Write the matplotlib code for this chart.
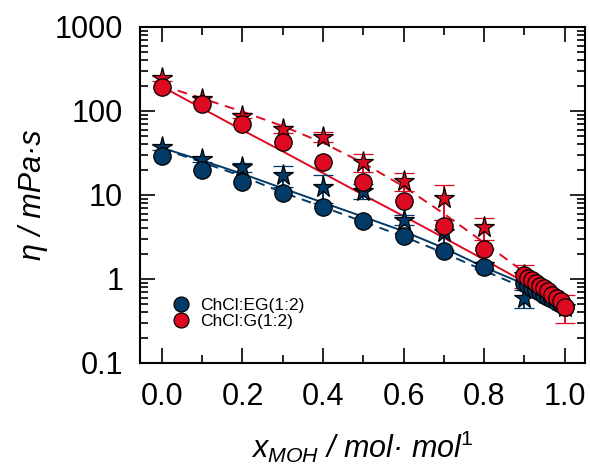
import numpy as np
import matplotlib
matplotlib.use('Agg')
from matplotlib import pyplot as plt
from matplotlib.ticker import LogLocator, FixedLocator, NullFormatter, FuncFormatter

plt.rcParams['font.family'] = ['Liberation Sans', 'DejaVu Sans']
plt.rcParams['mathtext.fontset'] = 'custom'
plt.rcParams['mathtext.rm'] = 'Liberation Sans'
plt.rcParams['mathtext.it'] = 'Liberation Sans:italic'

azul = '#023a68'
rojo = '#de0a22'

# fraccion molar de metanol
x_exp = [0.0, 0.1, 0.2, 0.3, 0.4, 0.5, 0.6, 0.7, 0.8]
x_fin = [0.90, 0.91, 0.92, 0.93, 0.94, 0.95, 0.96, 0.97, 0.98, 0.99, 1.00]

# ChCl:EG(1:2) circulos
eg_circ = [29.4, 20.0, 14.2, 10.6, 7.2, 4.9, 3.25, 2.15, 1.40]
eg_circ_fin = [0.90, 0.84, 0.79, 0.74, 0.69, 0.65, 0.61, 0.57, 0.53, 0.50, 0.47]
# ChCl:G(1:2) circulos
g_circ = [195, 121, 69, 43, 24.8, 14.4, 8.4, 4.3, 2.3]
g_circ_fin = [1.12, 1.04, 0.96, 0.89, 0.83, 0.77, 0.71, 0.65, 0.60, 0.54, 0.47]

# estrellas con barras de error
x_est = [0.0, 0.1, 0.2, 0.3, 0.4, 0.5, 0.6, 0.7, 0.8, 0.9]
eg_est = [37, 26.5, 21.5, 17.3, 12.6, 11.2, 5.1, 3.6, 1.45, 0.59]
eg_est_err = [2.5, 2.0, 2.5, 5.0, 4.5, 2.3, 0.7, 1.4, 0.15, 0.14]
x_est_g = [0.0, 0.1, 0.2, 0.3, 0.4, 0.5, 0.6, 0.7, 0.8, 0.9, 1.0]
g_est = [245, 140, 88, 61, 49, 24.5, 14.8, 9.1, 4.1, 1.12, 0.47]
g_est_err = [15, 8, 6, 6, 6.5, 6, 3.6, 4.0, 1.2, 0.35, 0.17]

# modelos
x_mod = [0.0, 0.1, 0.2, 0.3, 0.4, 0.5, 0.6, 0.7, 0.8, 0.9]
eg_mod1 = [36.3, 25.7, 17.8, 12.0, 8.1, 5.5, 3.7, 2.34, 1.38, 0.87]
eg_mod2 = [35.5, 24.5, 16.6, 10.7, 7.2, 4.8, 3.2, 2.04, 1.26, 0.78]
g_mod1 = [195, 107, 59, 33, 18.2, 10.0, 5.6, 3.1, 1.70, 0.92]
g_mod2 = [200, 141, 98, 66, 41.7, 24.0, 12.6, 6.0, 2.7, 1.20]

fig = plt.figure(figsize=(5.9, 4.72), dpi=100)
ax = fig.add_axes([0.237, 0.231, 0.754, 0.712])

ax.plot(x_mod, eg_mod1, '-', color=azul, lw=1.4, zorder=1)
ax.plot(x_mod, eg_mod2, '--', color=azul, lw=1.4, dashes=(5, 3.5), zorder=1)
ax.plot(x_mod, g_mod1, '-', color=rojo, lw=1.4, zorder=1)
ax.plot(x_mod, g_mod2, '--', color=rojo, lw=1.4, dashes=(5, 3.5), zorder=1)

ax.errorbar(x_est, eg_est, yerr=eg_est_err, fmt='*', ms=15.5, mfc=azul, mec='black', mew=0.9,
            ecolor=azul, elinewidth=1.4, capsize=7, capthick=1.4, zorder=2)
ax.errorbar(x_est_g, g_est, yerr=g_est_err, fmt='*', ms=15.5, mfc=rojo, mec='black', mew=0.9,
            ecolor=rojo, elinewidth=1.4, capsize=7, capthick=1.4, zorder=3)

ax.plot(x_exp + x_fin, eg_circ + eg_circ_fin, 'o', ms=12.5, mfc=azul, mec='black', mew=0.9,
        zorder=4, label='ChCl:EG(1:2)')
ax.plot(x_exp + x_fin, g_circ + g_circ_fin, 'o', ms=12.5, mfc=rojo, mec='black', mew=0.9,
        zorder=5, label='ChCl:G(1:2)')

ax.set_yscale('log')
ax.set_xlim(-0.055, 1.05)
ax.set_ylim(0.1, 1000)

ax.xaxis.set_major_locator(FixedLocator([0, 0.2, 0.4, 0.6, 0.8, 1.0]))
ax.xaxis.set_minor_locator(FixedLocator([0.1, 0.3, 0.5, 0.7, 0.9]))
ax.xaxis.set_major_formatter(FuncFormatter(lambda v, p: '%.1f' % v))
ax.yaxis.set_major_locator(LogLocator(base=10, numticks=10))
ax.yaxis.set_minor_locator(LogLocator(base=10, subs=np.arange(2, 10), numticks=20))
ax.yaxis.set_minor_formatter(NullFormatter())
ax.yaxis.set_major_formatter(FuncFormatter(lambda v, p: '%g' % v))

ax.tick_params(which='both', direction='in', top=True, right=True, width=1.2, labelsize=22)
ax.tick_params(which='major', length=11)
ax.tick_params(which='minor', length=5.5)
ax.tick_params(axis='x', which='major', pad=14)
ax.tick_params(axis='y', which='major', pad=12)
for s in ax.spines.values():
    s.set_linewidth(1.5)

ax.set_ylabel('η / mPa·s', fontsize=22, fontstyle='italic', labelpad=5)
ax.set_xlabel(r'$x_{MOH}$' + ' / mol· mol' + r'$^{\mathit{1}}$', fontsize=22, fontstyle='italic',
              labelpad=12)

ax.legend(loc='center left', bbox_to_anchor=(0.072, 0.146), frameon=False, fontsize=12.5,
          markerscale=0.86, handletextpad=0.6, labelspacing=0.05, handlelength=1.0,
          borderpad=0, borderaxespad=0)

fig.savefig('out.png', dpi=100)
